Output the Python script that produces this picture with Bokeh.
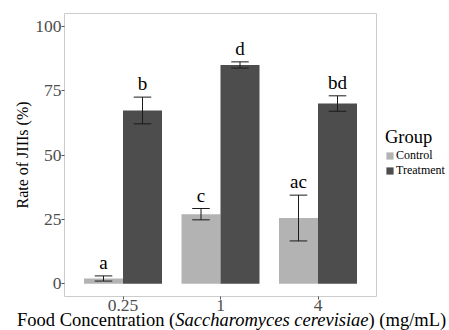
from bokeh.plotting import figure
from bokeh.models import (Range1d, FixedTicker, Legend, LegendItem, ColumnDataSource, Div)
from bokeh.layouts import column
from bokeh.core.properties import value
from bokeh.embed import file_html
from bokeh.resources import INLINE

# ---- data ----
concentrations = ["0.25", "1", "4"]
control_mean = [2.0, 27.0, 25.5]
control_err = [1.0, 2.2, 8.9]
treatment_mean = [67.3, 85.0, 70.0]
treatment_err = [5.2, 1.2, 3.0]
control_letters = ["a", "c", "ac"]
treatment_letters = ["b", "d", "bd"]
y_ticks = [0, 25, 50, 75, 100]
x_title_parts = ["Food Concentration (", "Saccharomyces cerevisiae", ") (mg/mL)"]

SERIF = "Liberation Serif"
CTRL_COLOR = "#b3b3b3"
TRT_COLOR = "#4d4d4d"

pos = [i + 1 for i in range(len(concentrations))]
bar_w = 0.4
cap_w = 0.09

p = figure(width=449, height=319, frame_width=312, frame_height=283,
           output_backend="svg", toolbar_location=None,
           x_range=Range1d(0.4, 3.6), y_range=Range1d(-5, 105),
           min_border_left=64, min_border_right=73, min_border_top=13, min_border_bottom=23)
p.xgrid.visible = False
p.ygrid.visible = False
p.outline_line_color = "#cccccc"
p.outline_line_width = 1
p.background_fill_color = "white"
p.border_fill_color = "white"

def make_series(mean, err, letters, offset):
    xs = [x + offset for x in pos]
    return ColumnDataSource(dict(
        x=xs, top=mean,
        lo=[m - e for m, e in zip(mean, err)],
        hi=[m + e for m, e in zip(mean, err)],
        x0=[x - cap_w for x in xs], x1=[x + cap_w for x in xs],
        lab=letters))

src_c = make_series(control_mean, control_err, control_letters, -bar_w / 2)
src_t = make_series(treatment_mean, treatment_err, treatment_letters, bar_w / 2)

r_c = p.vbar(x="x", top="top", bottom=0, width=bar_w, source=src_c,
             fill_color=CTRL_COLOR, line_color=None)
r_t = p.vbar(x="x", top="top", bottom=0, width=bar_w, source=src_t,
             fill_color=TRT_COLOR, line_color=None)

for src in (src_c, src_t):
    p.segment(x0="x", y0="lo", x1="x", y1="hi", source=src, line_color="#1a1a1a", line_width=1)
    p.segment(x0="x0", y0="lo", x1="x1", y1="lo", source=src, line_color="#1a1a1a", line_width=1)
    p.segment(x0="x0", y0="hi", x1="x1", y1="hi", source=src, line_color="#1a1a1a", line_width=1)
    p.text(x="x", y="hi", text="lab", source=src, text_align="center",
           text_baseline="bottom", y_offset=-3, text_font=value(SERIF),
           text_font_size="19px", text_color="black")

# axes
p.xaxis.ticker = FixedTicker(ticks=pos)
p.xaxis.major_label_overrides = {x: c for x, c in zip(pos, concentrations)}
p.yaxis.ticker = FixedTicker(ticks=y_ticks)
for ax in (p.xaxis, p.yaxis):
    ax.axis_line_color = None
    ax.major_tick_line_color = "#555555"
    ax.major_tick_out = 3
    ax.major_tick_in = 0
    ax.minor_tick_line_color = None
    ax.major_label_text_font = SERIF
    ax.major_label_text_font_size = "17.5px"
    ax.major_label_text_color = "#4d4d4d"
    ax.major_label_standoff = 0
p.yaxis.axis_label = "Rate of JIIIs (%)"
p.yaxis.axis_label_text_font = SERIF
p.yaxis.axis_label_text_font_size = "16px"
p.yaxis.axis_label_text_font_style = "normal"
p.yaxis.axis_label_text_color = "black"
p.yaxis.axis_label_standoff = 1

legend = Legend(items=[LegendItem(label="Control", renderers=[r_c]),
                       LegendItem(label="Treatment", renderers=[r_t])],
                location=(9, 118), title="Group",
                title_text_font=SERIF, title_text_font_size="18.5px",
                title_text_font_style="normal", title_text_color="black",
                title_standoff=0,
                label_text_font=SERIF, label_text_font_size="12px",
                label_text_color="black", label_text_line_height=0.75,
                label_height=9, glyph_height=9, glyph_width=9,
                label_standoff=2, spacing=0, padding=0, margin=0,
                border_line_color=None, background_fill_alpha=0)
p.add_layout(legend, "right")

title_html = (
    '<div style="position:relative; top:-8px; left:17px; white-space:nowrap; '
    "font-family:'Liberation Serif'; font-size:18.5px; line-height:18.5px; color:black;\">"
    f"{x_title_parts[0]}<i>{x_title_parts[1]}</i>{x_title_parts[2]}</div>"
)
xtitle = Div(text=title_html, width=449, height=11, margin=0,
             styles={"overflow": "visible"})

layout = column(p, xtitle, spacing=0)
open("out.html", "w").write(file_html(layout, INLINE))
